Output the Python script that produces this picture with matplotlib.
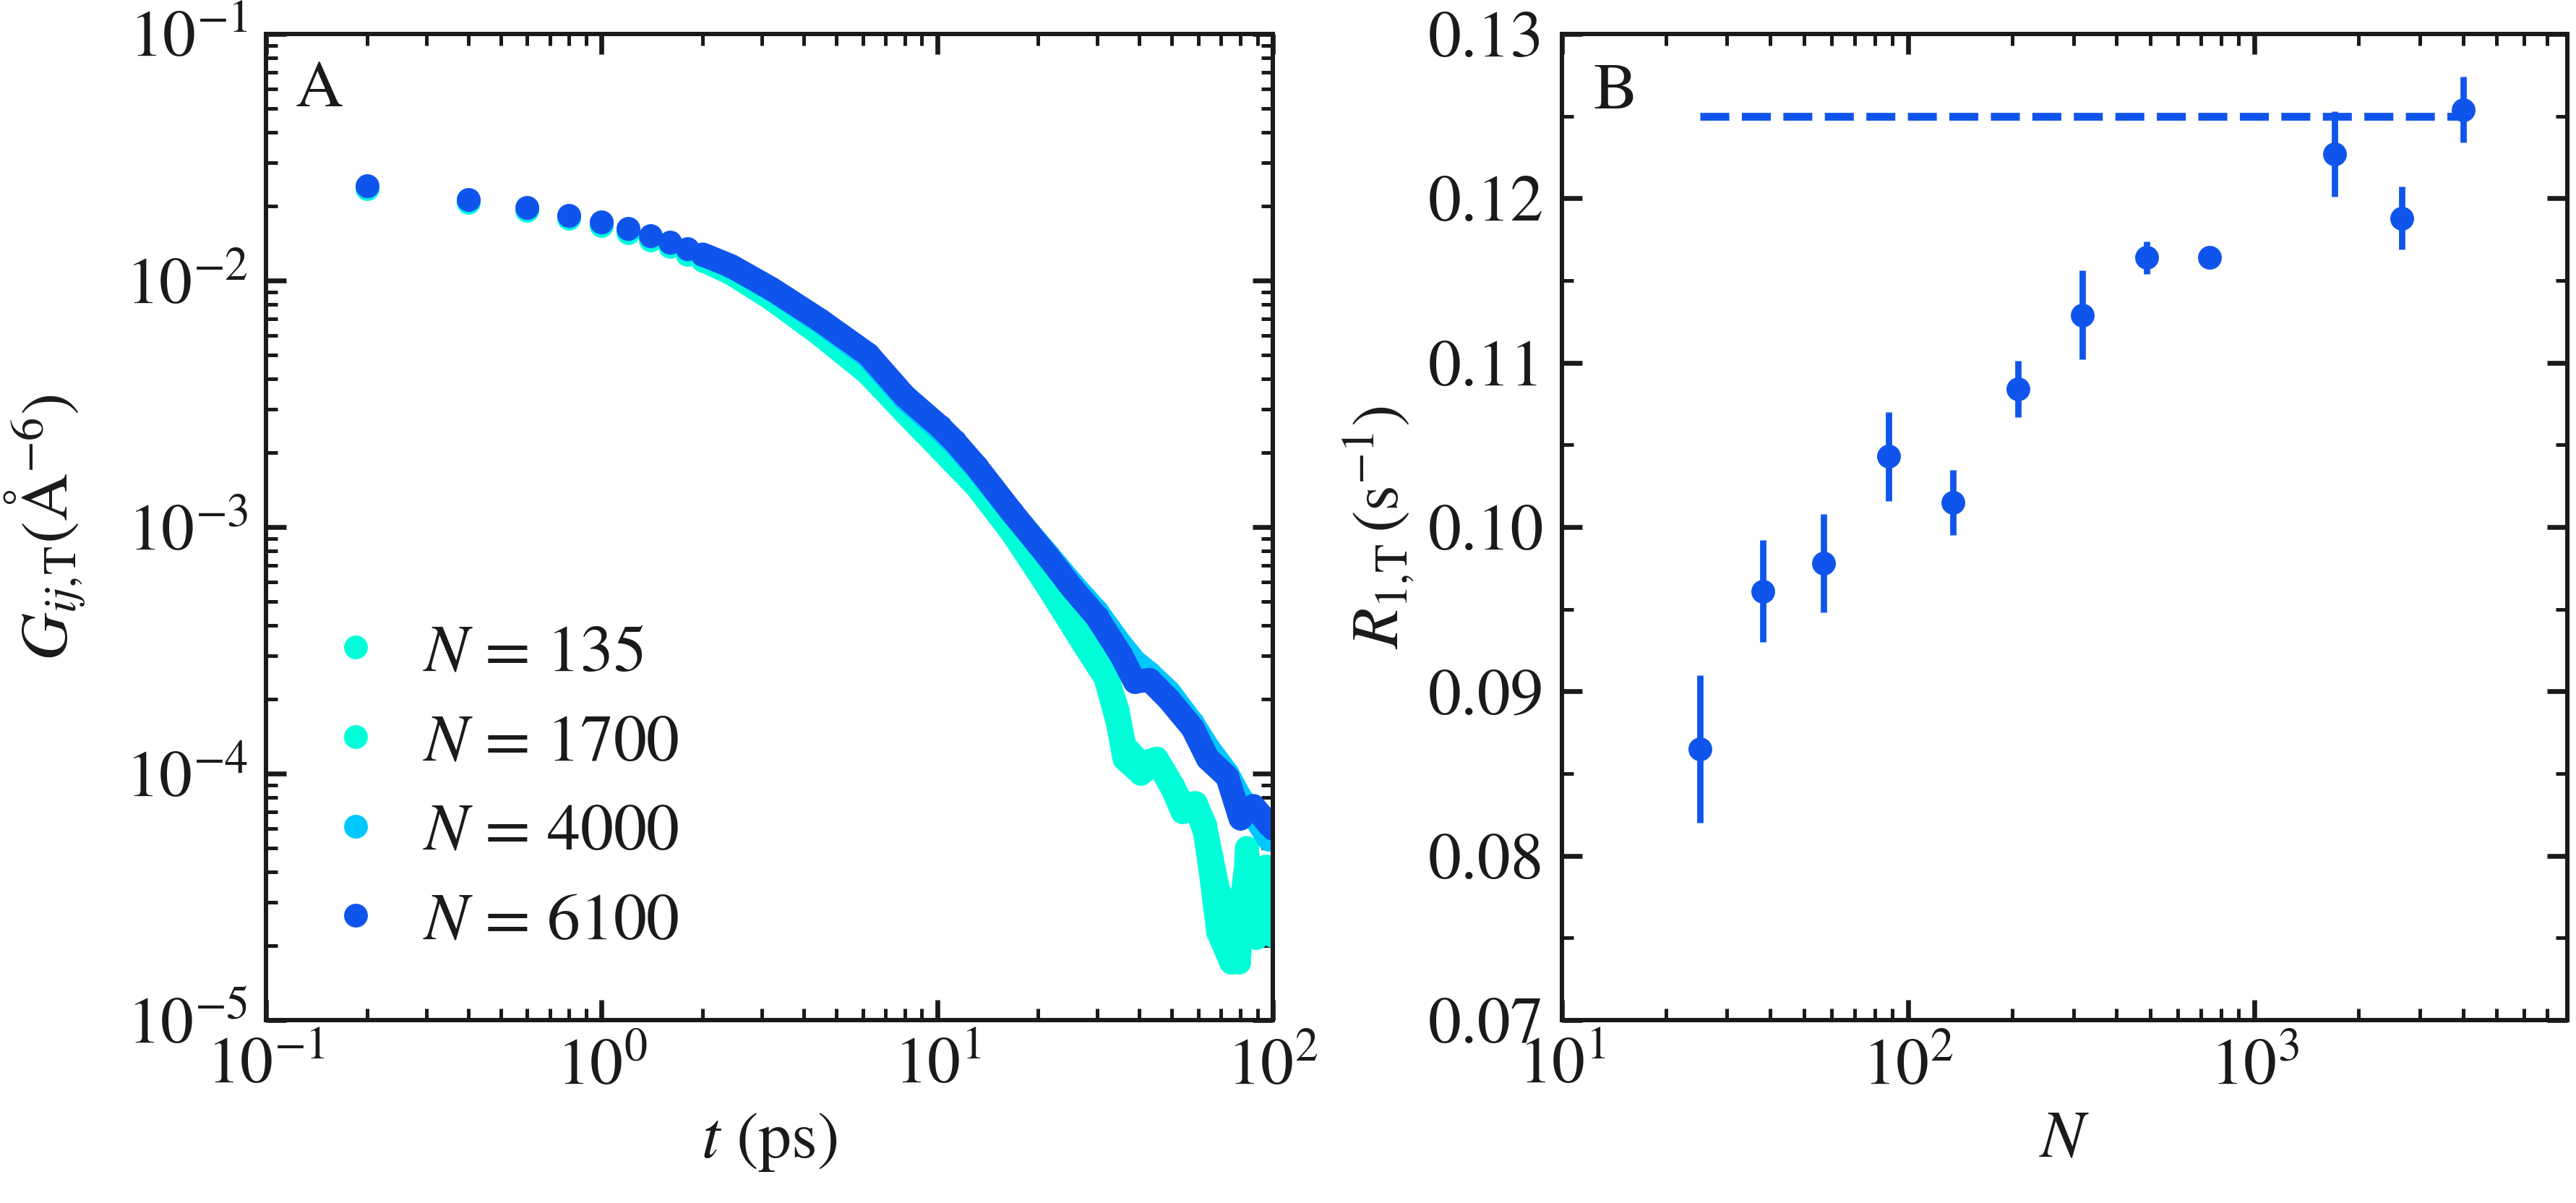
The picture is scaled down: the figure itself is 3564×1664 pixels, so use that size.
import numpy as np
import matplotlib
matplotlib.use("Agg")
import matplotlib.pyplot as plt
from matplotlib.ticker import MultipleLocator, FormatStrFormatter, LogLocator, NullFormatter

# ---- panel A: G_ij,T(t) for several system sizes
t_135 = [0.2, 0.4, 0.6, 0.8, 1.0, 1.2, 1.4, 1.6, 1.8, 2.0, 2.43, 3.22, 4.48, 6.22, 8.0,
         10.2, 13.1, 16.7, 21.4, 27.5, 31.7, 34.5, 36.1, 40.4, 45.1, 50.2, 53.8, 58.9,
         62.8, 65.6, 68.7, 75.1, 79.2, 82.8, 83.7, 89.3, 95.6, 97.5, 100.0]
G_135 = [0.0236, 0.0208, 0.0193, 0.0179, 0.01675, 0.01563, 0.01462, 0.0137, 0.0128, 0.0121,
         0.0107, 0.0084, 0.00603, 0.0042, 0.00292, 0.00208, 0.00146, 0.00095, 5.7e-4, 3.3e-4,
         2.45e-4, 1.61e-4, 1.15e-4, 1.0e-4, 1.12e-4, 8.7e-5, 7.0e-5, 7.4e-5, 5.75e-5, 3.8e-5,
         2.28e-5, 1.72e-5, 1.72e-5, 3.8e-5, 5.0e-5, 2.16e-5, 3.8e-5, 2.8e-5, 2.2e-5]

t_1700 = [0.2, 0.4, 0.6, 0.8, 1.0, 1.2, 1.4, 1.6, 1.8, 2.0, 2.43, 3.22, 4.48, 6.22, 8.0,
          10.2, 13.1, 16.7, 21.4, 27.5, 31.7, 34.5, 36.1, 40.4, 45.1, 50.2, 53.8, 58.9,
          62.8, 65.6, 68.7, 75.1, 79.2, 82.8, 89.3, 95.6, 100.0]
G_1700 = [0.0238, 0.0210, 0.0195, 0.0181, 0.01695, 0.01585, 0.0148, 0.0139, 0.0130, 0.0123,
          0.0109, 0.0086, 0.0062, 0.0044, 0.0031, 0.00220, 0.00155, 0.00100, 6.0e-4, 3.5e-4,
          2.6e-4, 1.8e-4, 1.3e-4, 1.1e-4, 1.15e-4, 9.0e-5, 7.5e-5, 7.6e-5, 6.2e-5, 4.6e-5,
          3.4e-5, 2.6e-5, 2.4e-5, 4.0e-5, 3.0e-5, 4.2e-5, 3.2e-5]

t_4000 = [0.2, 0.4, 0.6, 0.8, 1.0, 1.2, 1.4, 1.6, 1.8, 2.0, 2.43, 3.22, 4.48, 6.22, 8.0,
          10.2, 11.26, 13.1, 16.7, 21.4, 25.2, 29.9, 35.2, 38.8, 42.9, 49.0, 57.7, 64.0,
          73.2, 80.0, 87.5, 97.5, 100.0]
G_4000 = [0.0241, 0.0212, 0.0197, 0.0183, 0.01718, 0.01618, 0.01512, 0.01422, 0.01338, 0.0127,
          0.0114, 0.00915, 0.0068, 0.0049, 0.00332, 0.00248, 0.00218, 0.00173, 0.00114, 7.7e-4,
          5.9e-4, 4.55e-4, 3.35e-4, 2.85e-4, 2.55e-4, 2.15e-4, 1.6e-4, 1.28e-4, 1.0e-4, 8.0e-5,
          6.8e-5, 5.4e-5, 5.6e-5]

t_6100 = [0.2, 0.4, 0.6, 0.8, 1.0, 1.2, 1.4, 1.6, 1.8, 2.0, 2.43, 3.22, 4.48, 6.22, 8.0,
          10.2, 11.26, 13.1, 16.7, 21.4, 25.2, 29.9, 35.2, 38.8, 42.9, 49.0, 57.7, 64.0,
          73.2, 80.0, 87.5, 97.5, 100.0]
G_6100 = [0.0242, 0.0213, 0.0198, 0.0184, 0.01726, 0.01626, 0.0152, 0.0143, 0.01345, 0.01277,
          0.01146, 0.00923, 0.0069, 0.00502, 0.0034, 0.00255, 0.00223, 0.00176, 0.00115, 7.58e-4,
          5.67e-4, 4.32e-4, 3.05e-4, 2.36e-4, 2.40e-4, 2.0e-4, 1.53e-4, 1.15e-4, 9.7e-5, 6.6e-5,
          7.4e-5, 6.2e-5, 6.0e-5]

labels_A = ["$N$ = 135", "$N$ = 1700", "$N$ = 4000", "$N$ = 6100"]
colors_A = ["#00FFD9", "#00FFD9", "#00C8FF", "#1055EB"]

# ---- panel B: R_1,T versus N
N_B = [25, 38, 57, 88, 135, 208, 318, 488, 741, 1700, 2660, 4000]
R_B = [0.0865, 0.0961, 0.0978, 0.1043, 0.1015, 0.1084, 0.1129, 0.1164, 0.1164, 0.1227, 0.1188, 0.1254]
R_err = [0.0045, 0.0031, 0.0030, 0.0027, 0.0020, 0.0017, 0.0027, 0.0010, 0.0003, 0.0026, 0.0019, 0.0020]
R_limit = 0.125

blue = "#1055EB"
ink = "#1a1a1a"

plt.rcParams.update({
    "font.family": "STIXGeneral",
    "mathtext.fontset": "stix",
    "font.size": 22,
    "text.color": ink,
    "axes.labelcolor": ink,
    "axes.edgecolor": ink,
    "axes.linewidth": 1.45,
    "xtick.color": ink, "ytick.color": ink,
    "xtick.direction": "in", "ytick.direction": "in",
    "xtick.top": True, "ytick.right": True,
    "xtick.major.size": 6.7, "ytick.major.size": 6.7,
    "xtick.minor.size": 3.8, "ytick.minor.size": 3.8,
    "xtick.major.width": 1.6, "ytick.major.width": 1.6,
    "xtick.minor.width": 1.2, "ytick.minor.width": 1.2,
    "xtick.major.pad": 6, "ytick.major.pad": 6,
    "xtick.minor.visible": True, "ytick.minor.visible": True,
})

fig = plt.figure(figsize=(11.88, 5.5467), dpi=300)
axA = fig.add_axes([0.1033, 0.1520, 0.3908, 0.8197])
axB = fig.add_axes([0.6063, 0.1520, 0.3903, 0.8197])

ms = 7.9
for t, G, lab, col in zip([t_135, t_1700, t_4000, t_6100],
                          [G_135, G_1700, G_4000, G_6100], labels_A, colors_A):
    t = np.array(t)
    G = np.array(G)
    dense = t >= 2.0
    axA.plot(t[dense], G[dense], "-", color=col, lw=ms,
             solid_capstyle="round", solid_joinstyle="round")
    axA.plot(t, G, "o", color=col, ms=ms, mec="none", label=lab)

axA.set_xscale("log")
axA.set_yscale("log")
axA.set_xlim(0.1, 100)
axA.set_ylim(1e-5, 1e-1)
for axis in (axA.xaxis, axA.yaxis):
    axis.set_major_locator(LogLocator(base=10, numticks=10))
    axis.set_minor_locator(LogLocator(base=10, subs=np.arange(2, 10), numticks=10))
    axis.set_minor_formatter(NullFormatter())
axA.set_xlabel("$t$ (ps)")
axA.set_ylabel(r"$G_{ij,\!\mathrm{T}}(\mathrm{\AA}^{-6})$", labelpad=13)
axA.text(0.029, 0.972, "A", transform=axA.transAxes, ha="left", va="top")
axA.legend(loc="lower left", bbox_to_anchor=(0.056, 0.068), frameon=False,
           borderpad=0, borderaxespad=0, handlelength=1.0, handletextpad=0.52,
           labelspacing=0.43, markerscale=1.0)

axB.plot([N_B[0], N_B[-1]], [R_limit, R_limit], "--", color=blue, lw=2.6)
axB.errorbar(N_B, R_B, yerr=R_err, fmt="o", color=blue, ms=ms, mec="none",
             elinewidth=2.1, capsize=0)
axB.set_xscale("log")
axB.set_xlim(10, 8000)
axB.set_ylim(0.07, 0.13)
axB.xaxis.set_major_locator(LogLocator(base=10, numticks=10))
axB.xaxis.set_minor_locator(LogLocator(base=10, subs=np.arange(2, 10), numticks=10))
axB.xaxis.set_minor_formatter(NullFormatter())
axB.yaxis.set_major_locator(MultipleLocator(0.01))
axB.yaxis.set_minor_locator(MultipleLocator(0.005))
axB.yaxis.set_major_formatter(FormatStrFormatter("%.2f"))
axB.set_xlabel("$N$")
axB.set_ylabel(r"$R_{1,\!\mathrm{T}}\,(\mathrm{s}^{-1})$")
axB.text(0.031, 0.970, "B", transform=axB.transAxes, ha="left", va="top")

fig.savefig("out.png", dpi=300)
